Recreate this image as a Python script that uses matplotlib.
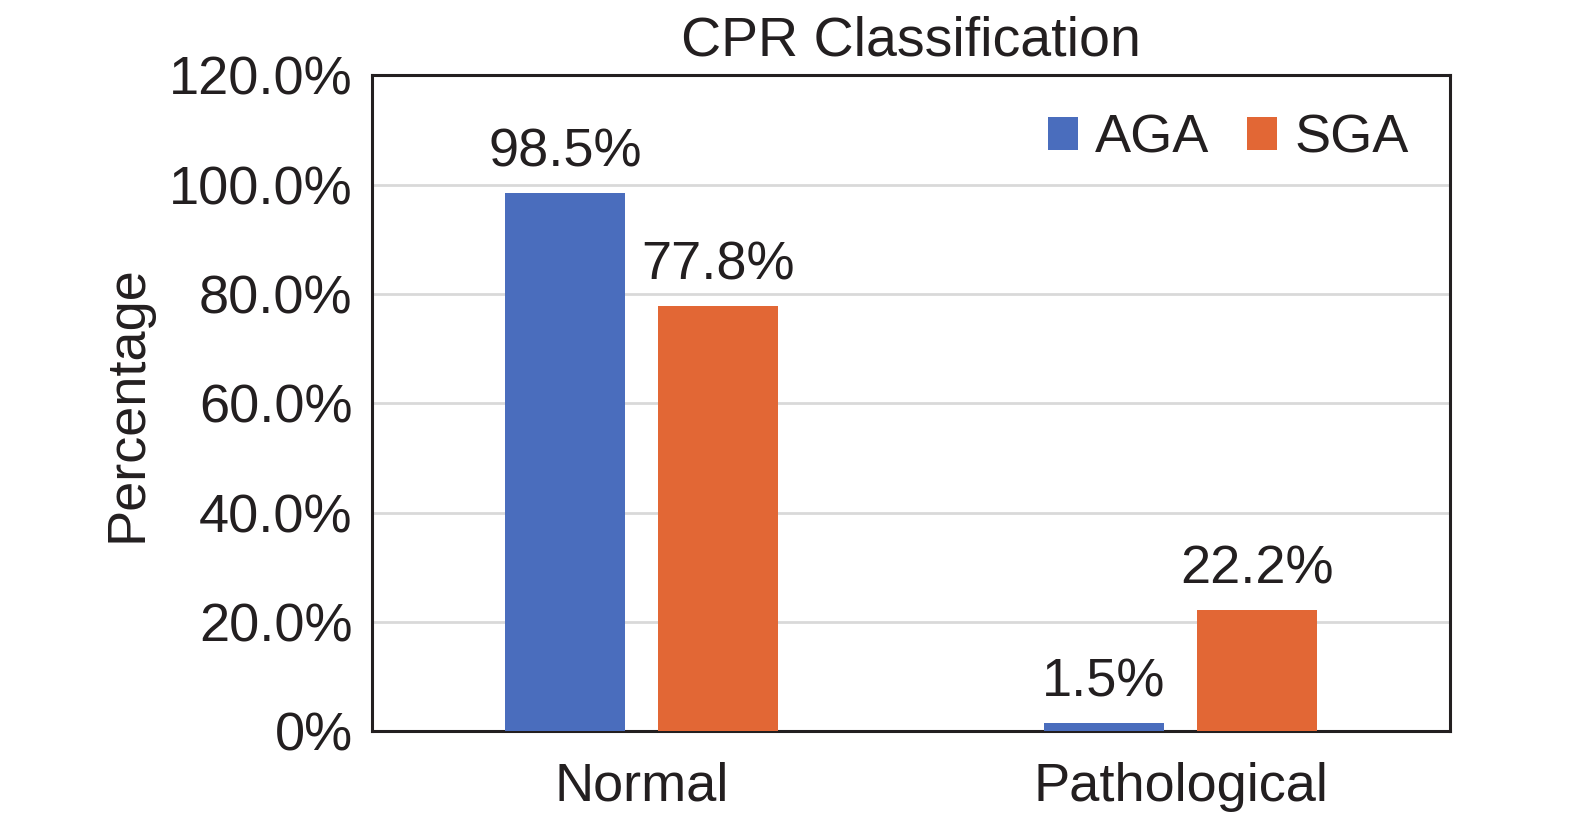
import numpy as np
import matplotlib.pyplot as plt
from matplotlib.ticker import FuncFormatter

categories = ['Normal', 'Pathological']
aga_values = [98.5, 1.5]
sga_values = [77.8, 22.2]
y_ticks = [0, 20, 40, 60, 80, 100, 120]

AGA_COLOR = '#4A6DBD'
SGA_COLOR = '#E26735'
TEXT_COLOR = '#231F20'

plt.rcParams['font.family'] = ['Liberation Sans', 'DejaVu Sans']
plt.rcParams['text.color'] = TEXT_COLOR

fig = plt.figure(figsize=(15.75, 8.17), dpi=100)
ax = fig.add_axes([0.2362, 0.105, 0.6844, 0.803])

x = np.arange(len(categories))
width = 0.223
off = 0.142
b1 = ax.bar(x - off, aga_values, width, color=AGA_COLOR, label='AGA', zorder=3)
b2 = ax.bar(x + off, sga_values, width, color=SGA_COLOR, label='SGA', zorder=3)

for bars, vals in ((b1, aga_values), (b2, sga_values)):
    for rect, v in zip(bars, vals):
        ax.text(rect.get_x() + rect.get_width() / 2, v + 2.8, f'{v:.1f}%',
                ha='center', va='bottom', fontsize=39, color=TEXT_COLOR)

ax.set_xlim(-0.5, 1.5)
ax.set_ylim(0, 120)
ax.set_yticks(y_ticks)
ax.yaxis.set_major_formatter(FuncFormatter(lambda v, p: '0%' if v == 0 else f'{v:.1f}%'))
ax.set_xticks(x)
ax.set_xticklabels(categories)
ax.tick_params(axis='both', length=0, labelsize=39, labelcolor=TEXT_COLOR)
ax.tick_params(axis='y', pad=14)
ax.tick_params(axis='x', pad=22)
ax.grid(axis='y', color='#D9D9D9', linewidth=2, zorder=0)
for s in ax.spines.values():
    s.set_linewidth(2.2)
    s.set_color(TEXT_COLOR)

ax.set_ylabel('Percentage', fontsize=39, labelpad=12, color=TEXT_COLOR)
ax.set_title('CPR Classification', fontsize=40, pad=14, color=TEXT_COLOR)

ax.legend(loc='upper right', frameon=False, fontsize=39, ncol=2,
          handlelength=0.55, handleheight=0.55, handletextpad=0.32,
          columnspacing=0.7, borderaxespad=0.3, bbox_to_anchor=(0.997, 0.999))

fig.savefig('out.png', dpi=100)
